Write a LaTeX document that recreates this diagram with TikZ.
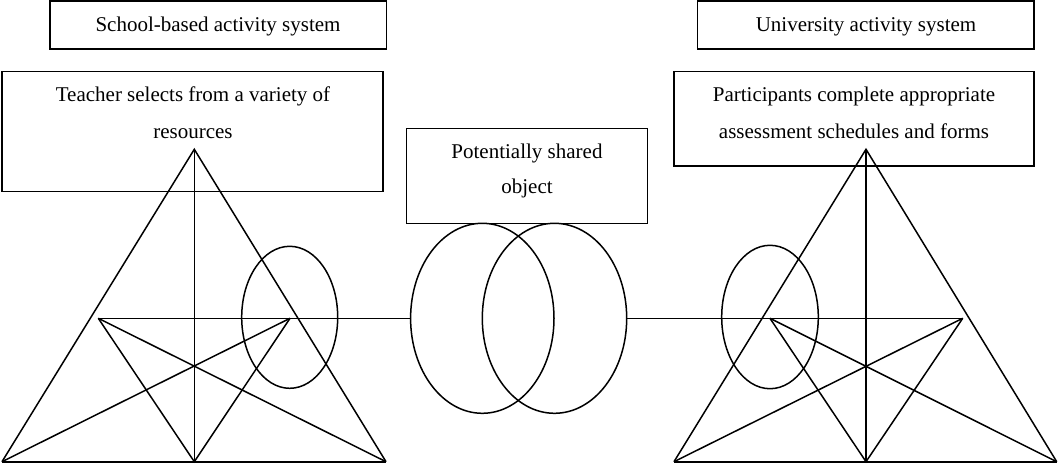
\documentclass[tikz,border=0pt]{standalone}
\usepackage{fontspec}
\setmainfont{Liberation Serif}
\usetikzlibrary{shapes.geometric}
\begin{document}
\begin{tikzpicture}[x=1pt,y=-1pt,
  line width=1.5pt,
  box/.style={draw,rectangle,inner sep=0pt,outer sep=0pt},
  lbl/.style={inner sep=0pt,anchor=base,font=\fontsize{21}{25}\selectfont},
  oval/.style={draw,ellipse,inner sep=0pt,outer sep=0pt},
  base/.style={line width=2.3pt}]
\useasboundingbox (0,0) rectangle (1058,466);

% ---- heading and description boxes ----
\node[box,minimum width=336.7pt,minimum height=48pt] (L1) at (218.3,25) {};
\node[lbl] (L1t) at (218,31.7) {School-based activity system};
\node[box,minimum width=381pt,minimum height=120pt] (L2) at (192.5,131.7) {};
\node[lbl] (L2t1) at (193,101.7) {Teacher selects from a variety of};
\node[lbl] (L2t2) at (193,138.3) {resources};

\node[box,minimum width=336.3pt,minimum height=48pt] (R1) at (865.8,25) {};
\node[lbl] (R1t) at (866,31.7) {University activity system};
\node[box,minimum width=360pt,minimum height=94.3pt] (R2) at (854,118.8) {};
\node[lbl] (R2t1) at (854,101.7) {Participants complete appropriate};
\node[lbl] (R2t2) at (854,138.3) {assessment schedules and forms};

\node[box,minimum width=241pt,minimum height=95pt] (M) at (527.2,175.8) {};
\node[lbl] (Mt1) at (527,158.3) {Potentially shared};
\node[lbl] (Mt2) at (527,193.3) {object};

% ---- left activity triangle ----
\coordinate (LA)  at (194.3,149.3);
\coordinate (LBL) at (2,461.7);
\coordinate (LBR) at (386,461.7);
\coordinate (LBM) at (194.3,461.7);
\coordinate (LIL) at (98.3,318.3);
\coordinate (LIR) at (290,318.3);
\draw (LBL) -- (LA) -- (LBR);
\draw (LA) -- (LBM);
\draw[base] (LBL) -- (LBR);
\draw (LIL) -- (LBM) -- (LIR);
\draw (LIL) -- (LBR);
\draw (LIR) -- (LBL);
\node[oval,minimum width=96pt,minimum height=142pt] (LE) at (289.7,317.3) {};

% ---- right activity triangle ----
\coordinate (RA)  at (866,149.3);
\coordinate (RBL) at (674,461.7);
\coordinate (RBR) at (1056.7,461.7);
\coordinate (RBM) at (866,461.7);
\coordinate (RIL) at (770,318.3);
\coordinate (RIR) at (962.7,318.3);
\draw (RBL) -- (RA) -- (RBR);
\draw (RA) -- (RBM);
\draw[base] (RBL) -- (RBR);
\draw (RIL) -- (RBM) -- (RIR);
\draw (RIL) -- (RBR);
\draw (RIR) -- (RBL);
\node[oval,minimum width=96.6pt,minimum height=143.4pt] (RE) at (770,317) {};

% ---- potentially shared object ----
\node[oval,minimum width=143.4pt,minimum height=190pt] (OA) at (482.3,318.3) {};
\node[oval,minimum width=144.4pt,minimum height=190pt] (OB) at (554.5,318.3) {};

% ---- links between the two systems ----
\draw (LIL) -- (OA.west);
\draw (OB.east) -- (RIR);
\end{tikzpicture}
\end{document}
